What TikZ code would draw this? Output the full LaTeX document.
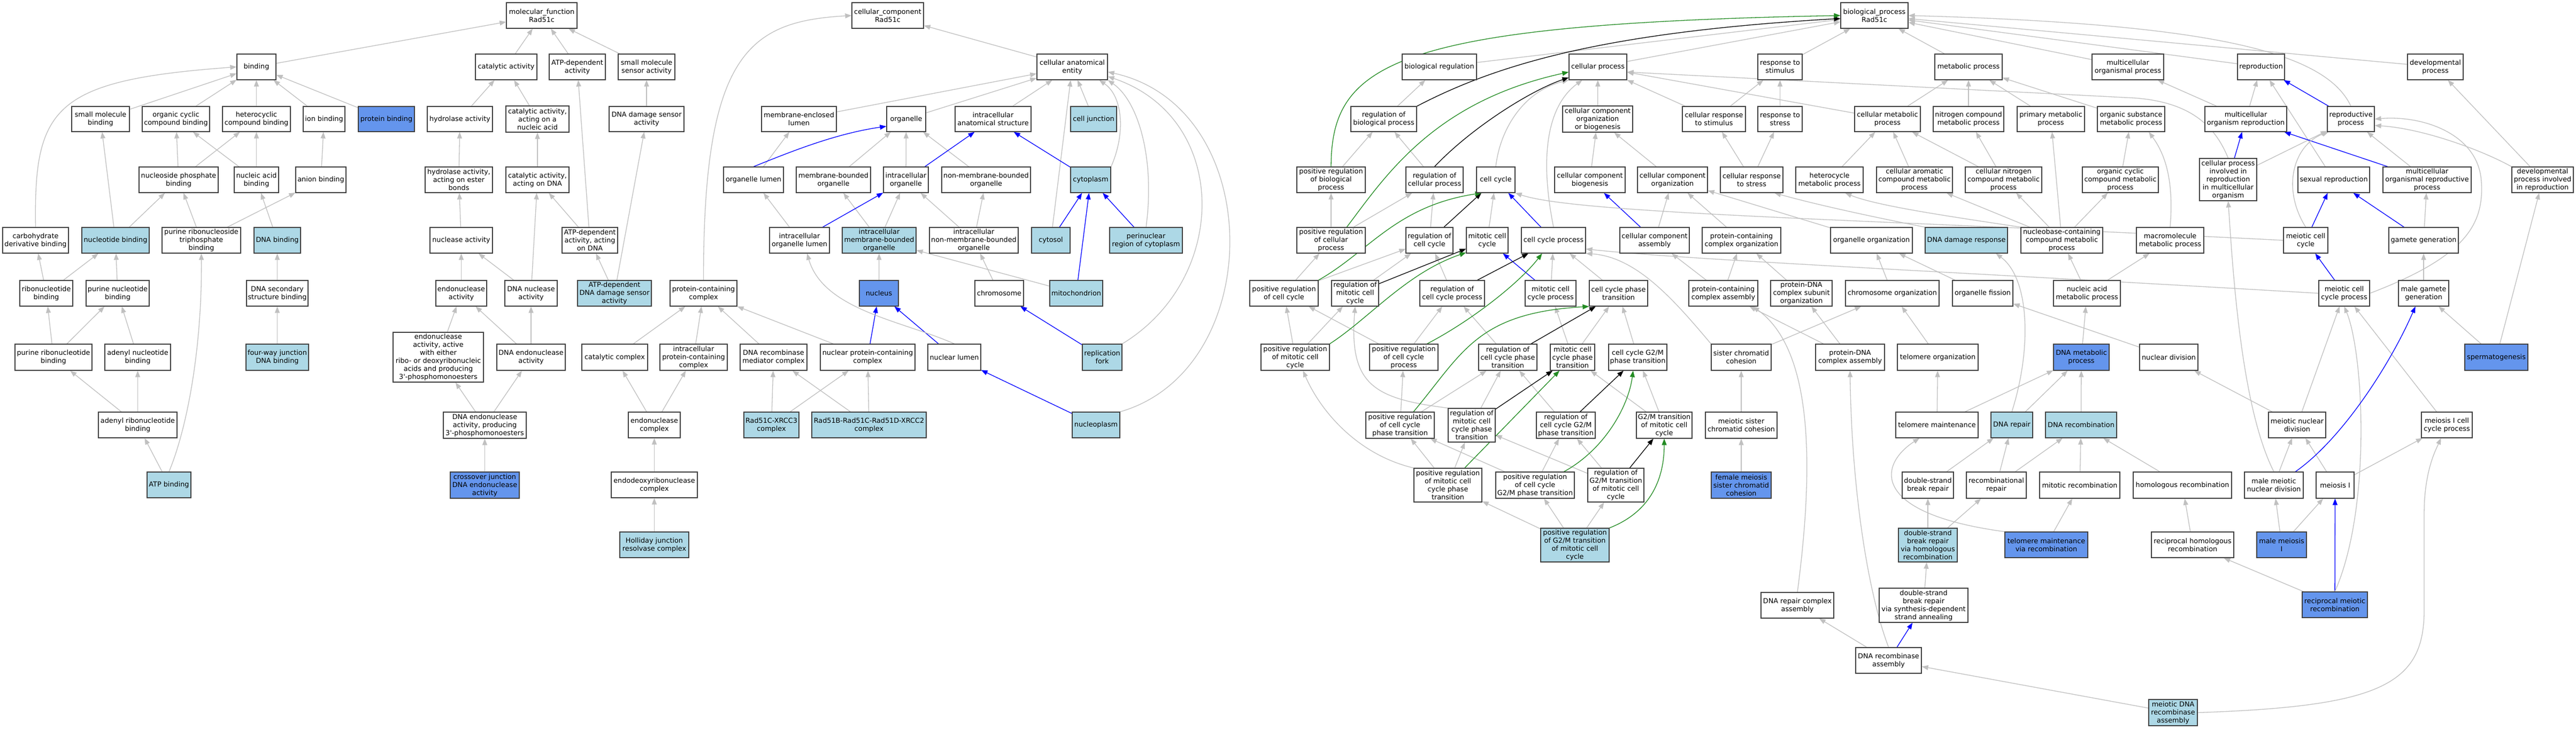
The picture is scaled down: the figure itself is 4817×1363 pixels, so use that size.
\documentclass[tikz,border=0pt]{standalone}
\usepackage{fontspec}
\setmainfont{DejaVu Sans}
\usetikzlibrary{arrows.meta}
\definecolor{lb}{HTML}{ADD8E6}
\definecolor{cb}{HTML}{6495ED}
\definecolor{eg}{HTML}{C0C0C0}
\definecolor{fg}{HTML}{228B22}
\pgfdeclarelayer{back}
\pgfdeclarelayer{edges}
\pgfsetlayers{back,edges,main}
\newcommand\gonode[7][white]{\node[gobox,fill=#1,minimum width={(#4)-(#3)},minimum height={(#6)-(#5)}] (#2) at ({((#3)+(#4))/2},{((#5)+(#6))/2}) {#7};}
\tikzset{
  gobox/.style={draw=black!75,line width=1.2pt,inner sep=1pt,align=center,font=\fontsize{12.8}{15}\selectfont},
  edgebase/.style={line width=1.3pt,-{Triangle[length=12pt,width=9pt]}},
  gedge/.style={edgebase,draw=eg},
  bedge/.style={edgebase,draw=blue},
  kedge/.style={edgebase,draw=black},
  fedge/.style={edgebase,draw=fg}
}
\begin{document}
\begin{tikzpicture}[x=1pt,y=-1pt]
\begin{pgfonlayer}{back}
\fill[white] (0,0) rectangle (4817,1363);
\end{pgfonlayer}
\useasboundingbox (0,0) rectangle (4817,1363);
% ---------- molecular function ----------
\gonode{mf}{947}{1079}{5}{53}{molecular\_function\\Rad51c}
\gonode{binding}{443}{516}{101}{149}{binding}
\gonode{catact}{889}{1004}{101}{149}{catalytic activity}
\gonode{atpdep}{1027}{1132}{101}{149}{ATP-dependent\\activity}
\gonode{smsensor}{1156}{1262}{101}{149}{small molecule\\sensor activity}
\gonode{smbind}{134}{242}{199}{246}{small molecule\\binding}
\gonode{orgcyc}{266}{392}{199}{246}{organic cyclic\\compound binding}
\gonode{hetcyc}{416}{543}{199}{246}{heterocyclic\\compound binding}
\gonode{ionbind}{567}{645}{199}{246}{ion binding}
\gonode[cb]{protbind}{670}{775}{199}{246}{protein binding}
\gonode{hydro}{799}{921}{199}{246}{hydrolase activity}
\gonode{catnuc}{946}{1064}{198}{247}{catalytic activity,\\acting on a\\nucleic acid}
\gonode{dnadmgsens}{1139}{1279}{199}{246}{DNA damage sensor\\activity}
\gonode{nucphos}{260}{408}{312}{360}{nucleoside phosphate\\binding}
\gonode{nucacid}{438}{521}{312}{360}{nucleic acid\\binding}
\gonode{anion}{553}{647}{312}{360}{anion binding}
\gonode{hydroester}{795}{921}{312}{360}{hydrolase activity,\\acting on ester\\bonds}
\gonode{catdna}{946}{1064}{312}{360}{catalytic activity,\\acting on DNA}
\gonode{carbo}{5}{128}{425}{473}{carbohydrate\\derivative binding}
\gonode[lb]{nucleotide}{153}{279}{425}{473}{nucleotide binding}
\gonode{prtp}{303}{450}{425}{473}{purine ribonucleoside\\triphosphate\\binding}
\gonode[lb]{dnabind}{475}{562}{425}{473}{DNA binding}
\gonode{nuclease}{804}{921}{425}{473}{nuclease activity}
\gonode{atpdna}{1051}{1155}{425}{473}{ATP-dependent\\activity, acting\\on DNA}
\gonode{ribonuc}{37}{136}{524}{572}{ribonucleotide\\binding}
\gonode{purnuc}{161}{279}{524}{572}{purine nucleotide\\binding}
\gonode{dnasec}{461}{576}{524}{572}{DNA secondary\\structure binding}
\gonode{endo}{815}{910}{524}{572}{endonuclease\\activity}
\gonode{dnanuc}{944}{1042}{524}{572}{DNA nuclease\\activity}
\gonode[lb]{atpdmg}{1080}{1218}{524}{572}{ATP-dependent\\DNA damage sensor\\activity}
\gonode{purribo}{28}{172}{643}{692}{purine ribonucleotide\\binding}
\gonode{adenyl}{196}{319}{643}{692}{adenyl nucleotide\\binding}
\gonode[lb]{fourway}{460}{577}{643}{692}{four-way junction\\DNA binding}
\gonode{endoactive}{735}{904}{621}{714}{endonuclease\\activity, active\\with either\\ribo- or deoxyribonucleic\\acids and producing\\3\textquotesingle-phosphomonoesters}
\gonode{dnaendo}{929}{1057}{643}{692}{DNA endonuclease\\activity}
\gonode{adenylribo}{184}{331}{770}{818}{adenyl ribonucleotide\\binding}
\gonode{dnaendo3}{829}{984}{770}{819}{DNA endonuclease\\activity, producing\\3\textquotesingle-phosphomonoesters}
\gonode[lb]{atpbind}{275}{357}{882}{930}{ATP binding}
\gonode[cb]{crossover}{842}{971}{882}{931}{crossover junction\\DNA endonuclease\\activity}
% ---------- cellular component ----------
\gonode{cc}{1593}{1727}{5}{53}{cellular\_component\\Rad51c}
\gonode{cae}{1939}{2071}{101}{149}{cellular anatomical\\entity}
\gonode{melumen}{1424}{1564}{199}{246}{membrane-enclosed\\lumen}
\gonode{organelle}{1658}{1731}{199}{246}{organelle}
\gonode{ias}{1786}{1928}{199}{246}{intracellular\\anatomical structure}
\gonode[lb]{celljunc}{2002}{2088}{199}{246}{cell junction}
\gonode{orglumen}{1353}{1465}{312}{360}{organelle lumen}
\gonode{mbo}{1489}{1628}{312}{360}{membrane-bounded\\organelle}
\gonode{intorg}{1652}{1736}{312}{360}{intracellular\\organelle}
\gonode{nmbo}{1761}{1927}{312}{360}{non-membrane-bounded\\organelle}
\gonode[lb]{cytoplasm}{2002}{2077}{312}{360}{cytoplasm}
\gonode{iol}{1439}{1551}{425}{473}{intracellular\\organelle lumen}
\gonode[lb]{imbo}{1575}{1713}{425}{473}{intracellular\\membrane-bounded\\organelle}
\gonode{inmbo}{1738}{1904}{425}{473}{intracellular\\non-membrane-bounded\\organelle}
\gonode[lb]{cytosol}{1929}{2001}{425}{473}{cytosol}
\gonode[lb]{perinuc}{2075}{2211}{425}{473}{perinuclear\\region of cytoplasm}
\gonode{pcc}{1253}{1378}{524}{572}{protein-containing\\complex}
\gonode[cb]{nucleus}{1607}{1680}{524}{572}{nucleus}
\gonode{chromosome}{1823}{1914}{524}{572}{chromosome}
\gonode[lb]{mito}{1963}{2062}{524}{572}{mitochondrion}
\gonode{catcomplex}{1088}{1211}{643}{692}{catalytic complex}
\gonode{ipcc}{1234}{1360}{643}{692}{intracellular\\protein-containing\\complex}
\gonode{drmc}{1384}{1509}{643}{692}{DNA recombinase\\mediator complex}
\gonode{npcc}{1534}{1711}{643}{692}{nuclear protein-containing\\complex}
\gonode{nuclumen}{1735}{1834}{643}{692}{nuclear lumen}
\gonode[lb]{repfork}{2024}{2098}{643}{692}{replication\\fork}
\gonode{endocomplex}{1175}{1272}{770}{818}{endonuclease\\complex}
\gonode[lb]{xrcc3}{1391}{1494}{770}{818}{Rad51C-XRCC3\\complex}
\gonode[lb]{xrcc2}{1518}{1732}{770}{818}{Rad51B-Rad51C-Rad51D-XRCC2\\complex}
\gonode[lb]{nucleoplasm}{2005}{2094}{770}{818}{nucleoplasm}
\gonode{endodeoxy}{1143}{1304}{882}{930}{endodeoxyribonuclease\\complex}
\gonode[lb]{holliday}{1159}{1288}{994}{1042}{Holliday junction\\resolvase complex}
% ---------- biological process ----------
\gonode{bp}{3442}{3568}{5}{53}{biological\_process\\Rad51c}
\gonode{bioreg}{2622}{2761}{101}{149}{biological regulation}
\gonode{cellproc}{2934}{3042}{101}{149}{cellular process}
\gonode{respstim}{3287}{3370}{101}{149}{response to\\stimulus}
\gonode{metab}{3618}{3744}{101}{149}{metabolic process}
\gonode{multiorg}{3912}{4046}{101}{149}{multicellular\\organismal process}
\gonode{reproduction}{4184}{4272}{101}{149}{reproduction}
\gonode{devproc}{4502}{4606}{101}{149}{developmental\\process}
\gonode{regbp}{2526}{2649}{199}{246}{regulation of\\biological process}
\gonode{ccob}{2922}{3053}{198}{247}{cellular component\\organization\\or biogenesis}
\gonode{cresp}{3146}{3264}{199}{246}{cellular response\\to stimulus}
\gonode{respstress}{3287}{3370}{199}{246}{response to\\stress}
\gonode{cellmet}{3468}{3591}{199}{246}{cellular metabolic\\process}
\gonode{nitro}{3615}{3747}{199}{246}{nitrogen compound\\metabolic process}
\gonode{primary}{3772}{3898}{199}{246}{primary metabolic\\process}
\gonode{orgsub}{3922}{4048}{199}{246}{organic substance\\metabolic process}
\gonode{mor}{4123}{4276}{199}{246}{multicellular\\organism reproduction}
\gonode{reprod}{4352}{4440}{199}{246}{reproductive\\process}
\gonode{posregbp}{2425}{2553}{312}{360}{positive regulation\\of biological\\process}
\gonode{regcp}{2629}{2736}{312}{360}{regulation of\\cellular process}
\gonode{cellcycle}{2761}{2833}{312}{360}{cell cycle}
\gonode{ccbio}{2907}{3039}{312}{360}{cellular component\\biogenesis}
\gonode{ccorg}{3062}{3193}{312}{360}{cellular component\\organization}
\gonode{crstress}{3217}{3334}{312}{360}{cellular response\\to stress}
\gonode{hetero}{3358}{3484}{312}{360}{heterocycle\\metabolic process}
\gonode{arom}{3509}{3651}{312}{360}{cellular aromatic\\compound metabolic\\process}
\gonode{cellnitro}{3675}{3818}{312}{360}{cellular nitrogen\\compound metabolic\\process}
\gonode{orgcycmet}{3894}{4036}{312}{360}{organic cyclic\\compound metabolic\\process}
\gonode{cpirmo}{4113}{4220}{296}{375}{cellular process\\involved in\\reproduction\\in multicellular\\organism}
\gonode{sexrep}{4297}{4431}{312}{360}{sexual reproduction}
\gonode{morp}{4456}{4621}{312}{360}{multicellular\\organismal reproductive\\process}
\gonode{dpir}{4697}{4812}{312}{360}{developmental\\process involved\\in reproduction}
\gonode{posregcp}{2425}{2553}{425}{473}{positive regulation\\of cellular\\process}
\gonode{regcc}{2629}{2717}{425}{473}{regulation of\\cell cycle}
\gonode{mitcc}{2742}{2820}{425}{473}{mitotic cell\\cycle}
\gonode{ccp}{2845}{2965}{425}{473}{cell cycle process}
\gonode{ccassem}{3029}{3159}{425}{473}{cellular component\\assembly}
\gonode{pcorg}{3183}{3330}{425}{473}{protein-containing\\complex organization}
\gonode{orgorg}{3423}{3576}{425}{473}{organelle organization}
\gonode[lb]{dnadr}{3600}{3754}{425}{473}{DNA damage response}
\gonode{nucbase}{3779}{3932}{425}{473}{nucleobase-containing\\compound metabolic\\process}
\gonode{macro}{3995}{4121}{425}{473}{macromolecule\\metabolic process}
\gonode{meicc}{4270}{4353}{425}{473}{meiotic cell\\cycle}
\gonode{gamete}{4467}{4597}{425}{473}{gamete generation}
\gonode{posregcc}{2337}{2465}{524}{572}{positive regulation\\of cell cycle}
\gonode{regmcc}{2490}{2578}{524}{572}{regulation of\\mitotic cell\\cycle}
\gonode{regccp}{2655}{2776}{524}{572}{regulation of\\cell cycle process}
\gonode{mccp}{2852}{2947}{524}{572}{mitotic cell\\cycle process}
\gonode{ccpt}{2972}{3081}{524}{572}{cell cycle phase\\transition}
\gonode{pcassem}{3158}{3287}{524}{572}{protein-containing\\complex assembly}
\gonode{pdnaorg}{3311}{3426}{524}{572}{protein-DNA\\complex subunit\\organization}
\gonode{chromorg}{3451}{3626}{524}{572}{chromosome organization}
\gonode{orgfis}{3651}{3764}{524}{572}{organelle fission}
\gonode{nam}{3840}{3965}{524}{572}{nucleic acid\\metabolic process}
\gonode{meiccp}{4336}{4431}{524}{572}{meiotic cell\\cycle process}
\gonode{malegam}{4485}{4579}{524}{572}{male gamete\\generation}
\gonode{posregmcc}{2358}{2486}{643}{692}{positive regulation\\of mitotic cell\\cycle}
\gonode{posregccp}{2561}{2689}{643}{692}{positive regulation\\of cell cycle\\process}
\gonode{regccpt}{2765}{2874}{643}{692}{regulation of\\cell cycle phase\\transition}
\gonode{mccpt}{2899}{2982}{643}{692}{mitotic cell\\cycle phase\\transition}
\gonode{g2m}{3008}{3117}{643}{692}{cell cycle G2/M\\phase transition}
\gonode{sister}{3200}{3312}{643}{692}{sister chromatid\\cohesion}
\gonode{pdnaassem}{3395}{3524}{643}{692}{protein-DNA\\complex assembly}
\gonode{telorg}{3548}{3699}{643}{692}{telomere organization}
\gonode[cb]{dnamet}{3840}{3944}{643}{692}{DNA metabolic\\process}
\gonode{nucdiv}{4001}{4110}{643}{692}{nuclear division}
\gonode[cb]{spermato}{4609}{4727}{643}{692}{spermatogenesis}
\gonode{posregccpt}{2554}{2682}{770}{819}{positive regulation\\of cell cycle\\phase transition}
\gonode{regmccpt}{2708}{2796}{763}{826}{regulation of\\mitotic cell\\cycle phase\\transition}
\gonode{regg2m}{2873}{2983}{770}{819}{regulation of\\cell cycle G2/M\\phase transition}
\gonode{g2mmit}{3060}{3164}{770}{819}{G2/M transition\\of mitotic cell\\cycle}
\gonode{meisis}{3189}{3323}{770}{819}{meiotic sister\\chromatid cohesion}
\gonode{telmain}{3545}{3699}{770}{818}{telomere maintenance}
\gonode[lb]{dnarepair}{3723}{3801}{770}{818}{DNA repair}
\gonode[lb]{dnarecomb}{3825}{3958}{770}{818}{DNA recombination}
\gonode{meinuc}{4242}{4349}{770}{818}{meiotic nuclear\\division}
\gonode{meiIccp}{4528}{4623}{770}{818}{meiosis I cell\\cycle process}
\gonode{posregmccpt}{2644}{2771}{875}{938}{positive regulation\\of mitotic cell\\cycle phase\\transition}
\gonode{posregg2m}{2797}{2944}{882}{931}{positive regulation\\of cell cycle\\G2/M phase transition}
\gonode{regg2mmit}{2969}{3074}{875}{938}{regulation of\\G2/M transition\\of mitotic cell\\cycle}
\gonode[cb]{femsis}{3200}{3312}{882}{931}{female meiosis\\sister chromatid\\cohesion}
\gonode{dsbr}{3557}{3653}{882}{931}{double-strand\\break repair}
\gonode{recrep}{3677}{3789}{882}{931}{recombinational\\repair}
\gonode{mitrec}{3814}{3964}{882}{931}{mitotic recombination}
\gonode{homrec}{3989}{4173}{882}{931}{homologous recombination}
\gonode{malemnd}{4197}{4307}{882}{931}{male meiotic\\nuclear division}
\gonode{meiosisI}{4331}{4402}{882}{931}{meiosis I}
\gonode[lb]{posregg2mmit}{2881}{3009}{987}{1050}{positive regulation\\of G2/M transition\\of mitotic cell\\cycle}
\gonode[lb]{dsbrhr}{3550}{3660}{987}{1050}{double-strand\\break repair\\via homologous\\recombination}
\gonode[cb]{telmainrec}{3749}{3904}{994}{1042}{telomere maintenance\\via recombination}
\gonode{rechom}{4023}{4177}{994}{1042}{reciprocal homologous\\recombination}
\gonode[cb]{malemeiI}{4220}{4313}{994}{1042}{male meiosis\\I}
\gonode{dnarepcx}{3293}{3429}{1107}{1155}{DNA repair complex\\assembly}
\gonode{sdsa}{3514}{3680}{1099}{1163}{double-strand\\break repair\\via synthesis-dependent\\strand annealing}
\gonode[cb]{recmei}{4305}{4427}{1106}{1154}{reciprocal meiotic\\recombination}
\gonode{dnarecass}{3470}{3593}{1210}{1258}{DNA recombinase\\assembly}
\gonode[lb]{meidnarec}{4018}{4109}{1307}{1356}{meiotic DNA\\recombinase\\assembly}
% ---------- edges ----------
\begin{pgfonlayer}{edges}
\foreach \a/\b in {binding/mf,catact/mf,atpdep/mf,smsensor/mf,
 smbind/binding,orgcyc/binding,hetcyc/binding,ionbind/binding,protbind/binding,
 hydro/catact,catnuc/catact,dnadmgsens/smsensor,
 nucphos/orgcyc,nucphos/hetcyc,nucacid/orgcyc,nucacid/hetcyc,anion/ionbind,
 hydroester/hydro,catdna/catnuc,
 nucleotide/smbind,nucleotide/nucphos,prtp/nucphos,prtp/anion,dnabind/nucacid,
 nuclease/hydroester,atpdna/catdna,atpdna/atpdep,
 ribonuc/carbo,ribonuc/nucleotide,purnuc/nucleotide,dnasec/dnabind,
 endo/nuclease,dnanuc/nuclease,dnanuc/catdna,atpdmg/atpdna,atpdmg/dnadmgsens,
 purribo/ribonuc,purribo/purnuc,adenyl/purnuc,fourway/dnasec,
 endoactive/endo,dnaendo/endo,dnaendo/dnanuc,
 adenylribo/purribo,adenylribo/adenyl,
 dnaendo3/endoactive,dnaendo3/dnaendo,atpbind/adenylribo,crossover/dnaendo3,
 cae/cc,organelle/cae,ias/cae,celljunc/cae,melumen/cae,cytosol/cae,
 intorg/organelle,mbo/organelle,nmbo/organelle,orglumen/melumen,iol/orglumen,
 imbo/mbo,imbo/intorg,inmbo/intorg,inmbo/nmbo,nucleus/imbo,mito/imbo,chromosome/inmbo,
 xrcc2/npcc,xrcc2/drmc,xrcc3/drmc,xrcc3/npcc,drmc/pcc,npcc/pcc,catcomplex/pcc,ipcc/pcc,
 endocomplex/catcomplex,endocomplex/ipcc,endodeoxy/endocomplex,holliday/endodeoxy,
 bioreg/bp,cellproc/bp,respstim/bp,metab/bp,multiorg/bp,reproduction/bp,devproc/bp,
 regbp/bioreg,posregbp/regbp,regcp/regbp,posregcp/posregbp,posregcp/regcp,
 ccob/cellproc,cresp/cellproc,cellmet/cellproc,cresp/respstim,respstress/respstim,
 cellmet/metab,nitro/metab,primary/metab,orgsub/metab,
 ccbio/ccob,ccorg/ccob,crstress/cresp,crstress/respstress,
 hetero/cellmet,arom/cellmet,cellnitro/cellmet,cellnitro/nitro,orgcycmet/orgsub,
 mor/reproduction,mor/multiorg,dpir/devproc,morp/reprod,cpirmo/reprod,gamete/morp,
 malegam/gamete,spermato/malegam,spermato/dpir,sexrep/reproduction,
 regcc/regcp,mitcc/cellcycle,ccassem/ccorg,pcorg/ccorg,orgorg/ccorg,
 nucbase/arom,nucbase/cellnitro,nucbase/primary,nucbase/orgcycmet,
 posregcc/posregcp,posregcc/regcc,regmcc/regcc,regccp/regcc,mccp/ccp,ccpt/ccp,
 pcassem/ccassem,pcassem/pcorg,pdnaorg/pcorg,chromorg/orgorg,orgfis/orgorg,nam/nucbase,nam/macro,sister/chromorg,
 posregmcc/posregcc,posregmcc/regmcc,posregccp/posregcc,posregccp/regccp,regccpt/regccp,mccpt/mccp,mccpt/ccpt,g2m/ccpt,
 pdnaassem/pdnaorg,pdnaassem/pcassem,telorg/chromorg,dnamet/nam,nucdiv/orgfis,
 posregccpt/posregccp,posregccpt/regccpt,regmccpt/regccpt,regg2m/regccpt,g2mmit/mccpt,g2mmit/g2m,
 meisis/sister,telmain/telorg,telmain/dnamet,dnarepair/dnamet,dnarecomb/dnamet,homrec/dnarecomb,
 meinuc/nucdiv,meinuc/meiccp,meiIccp/meiccp,
 posregmccpt/posregccpt,posregmccpt/regmccpt,posregg2m/posregccpt,posregg2m/regg2m,regg2mmit/regmccpt,regg2mmit/regg2m,
 femsis/meisis,dsbr/dnarepair,recrep/dnarepair,recrep/dnarecomb,mitrec/dnarecomb,
 malemnd/meinuc,meiosisI/meinuc,meiosisI/meiIccp,
 posregg2mmit/posregmccpt,posregg2mmit/posregg2m,posregg2mmit/regg2mmit,
 dsbrhr/dsbr,dsbrhr/recrep,telmainrec/mitrec,rechom/homrec,malemeiI/malemnd,malemeiI/meiosisI,
 recmei/rechom,dnarecass/dnarepcx,meidnarec/dnarecass,sdsa/dsbrhr}
 \draw[gedge] (\a) -- (\b);
\foreach \a/\b in {cytoplasm/ias,intorg/ias,iol/intorg,mito/cytoplasm,cytosol/cytoplasm,perinuc/cytoplasm,
 repfork/chromosome,npcc/nucleus,nuclumen/nucleus,nucleoplasm/nuclumen,reprod/reproduction,morp/mor,
 cpirmo/mor,meicc/sexrep,gamete/sexrep,meiccp/meicc,ccp/cellcycle,ccassem/ccbio,mccp/mitcc,
 recmei/meiosisI,dnarecass/sdsa}
 \draw[bedge] (\a) -- (\b);
\foreach \a/\b in {regcc/cellcycle,regmcc/mitcc,regccp/ccp,regccpt/ccpt,regmccpt/mccpt,regg2m/g2m,regg2mmit/g2mmit}
 \draw[kedge] (\a) -- (\b);
\draw[fedge] (posregmccpt) -- (mccpt);
% curved gray
\draw[gedge] (carbo.north) .. controls (63,200) and (100,150) .. (binding.west);
\draw[gedge] (atpbind.north) .. controls (350,800) and (378,650) .. (prtp.south);
\draw[gedge] (pcc.north) .. controls (1315,100) and (1400,40) .. (cc.west);
\draw[gedge] (cytoplasm.north east) .. controls (2105,250) and (2100,180) .. (cae.-26);
\draw[gedge] (perinuc.north) .. controls (2160,300) and (2130,190) .. (cae.south east);
\draw[gedge] (repfork.north east) .. controls (2300,520) and (2300,220) .. (cae.-15);
\draw[gedge] (nucleoplasm.north east) .. controls (2370,690) and (2370,200) .. (cae.-8);
\draw[gedge] (nuclumen.north) .. controls (1690,600) and (1540,580) .. (iol.-60);
\draw[gedge] (cellcycle.north) .. controls (2805,240) and (2850,170) .. (cellproc.south west);
\draw[gedge] (ccp.north) .. controls (2880,300) and (2890,200) .. (cellproc.-140);
\draw[gedge] (cpirmo.north) .. controls (4140,230) and (4090,190) .. (3990,183) -- (cellproc.-10);
\draw[gedge] (reprod.north) .. controls (4350,100) and (4150,45) .. (bp.east);
\draw[gedge] (dnadr.north west) .. controls (3450,395) and (3370,375) .. (crstress.-30);
\draw[gedge] (nucbase.north west) .. controls (3650,405) and (3510,385) .. (hetero.-40);
\draw[gedge] (sister.north west) .. controls (3130,560) and (3060,480) .. (ccp.south east);
\draw[gedge] (meiccp.west) .. controls (3600,505) and (3150,485) .. (ccp.-15);
\draw[gedge] (meicc.west) .. controls (3500,410) and (2950,400) .. (cellcycle.south east);
\draw[gedge] (meiccp.east) .. controls (4610,480) and (4645,420) .. (4640,340) .. controls (4635,250) and (4530,215) .. (reprod.east);
\draw[gedge] (dpir.north west) .. controls (4640,280) and (4530,240) .. (reprod.-15);
\draw[gedge] (meicc.north) .. controls (4265,350) and (4290,270) .. (reprod.-150);
\draw[gedge] (macro.north) .. controls (4065,340) and (4050,290) .. (orgsub.-36);
\draw[gedge] (dnarepcx.north) .. controls (3395,850) and (3385,650) .. (pcassem.-24);
\draw[gedge] (dnarecass.north) .. controls (3490,1100) and (3462,900) .. (pdnaassem.south);
\draw[gedge] (telmainrec.north west) .. controls (3500,960) and (3510,870) .. (telmain.-143);
\draw[gedge] (dnarepair.north) .. controls (3800,650) and (3795,520) .. (dnadr.-24);
\draw[gedge] (malemnd.north) .. controls (4190,760) and (4175,500) .. (cpirmo.south);
\draw[gedge] (recmei.north) .. controls (4435,950) and (4420,660) .. (meiccp.south);
\draw[gedge] (meidnarec.east) .. controls (4450,1320) and (4533,1280) .. (4533,1140) -- (4533,960) .. controls (4533,880) and (4555,840) .. (meiIccp.-114);
\draw[gedge] (regmccpt.north west) .. controls (2570,745) and (2522,720) .. (regmcc.south);
\draw[gedge] (posregmccpt.north west) .. controls (2540,850) and (2470,770) .. (posregmcc.-60);
% curved blue
\draw[bedge] (orglumen.north) .. controls (1475,285) and (1560,250) .. (organelle.200);
\draw[bedge] (malemnd.32) .. controls (4380,820) and (4470,680) .. (malegam.-122);
% curved black
\draw[kedge] (regbp.north east) .. controls (2800,120) and (3000,60) .. (bp.185);
\draw[kedge] (regcp.north) .. controls (2750,240) and (2860,170) .. (cellproc.-160);
% curved green
\draw[fedge] (posregbp.north) .. controls (2490,120) and (2600,45) .. (bp.west);
\draw[fedge] (posregcp.40) .. controls (2590,330) and (2680,190) .. (cellproc.-170);
\draw[fedge] (posregcc.north east) .. controls (2560,470) and (2610,385) .. (cellcycle.-137);
\draw[fedge] (posregmcc.north east) .. controls (2560,595) and (2630,510) .. (mitcc.-150);
\draw[fedge] (posregccp.30) .. controls (2750,600) and (2840,530) .. (ccp.-131);
\draw[fedge] (posregccpt.45) .. controls (2735,660) and (2760,585) .. (ccpt.south west);
\draw[fedge] (posregg2m.25) .. controls (3000,840) and (3045,760) .. (g2m.-109);
\draw[fedge] (posregg2mmit.north east) .. controls (3090,955) and (3112,890) .. (g2mmit.south);
\end{pgfonlayer}
\end{tikzpicture}
\end{document}
